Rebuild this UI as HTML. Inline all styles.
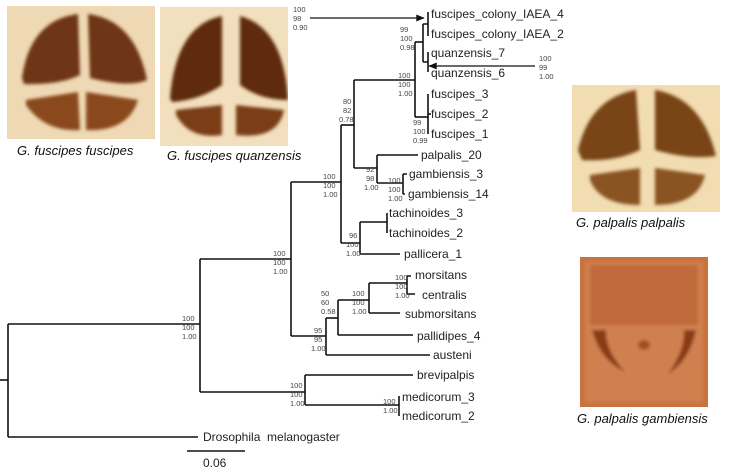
<!DOCTYPE html>
<html><head><meta charset="utf-8"><style>
html,body{margin:0;padding:0;background:#fff;}
body{width:753px;height:472px;overflow:hidden;position:relative;font-family:"Liberation Sans",Arial,sans-serif;}
svg{position:absolute;left:0;top:0;}
</style></head><body>
<svg width="753" height="472" viewBox="0 0 753 472" xmlns="http://www.w3.org/2000/svg">
<defs>
<filter id="bl" x="-20%" y="-20%" width="140%" height="140%"><feGaussianBlur stdDeviation="1.5"/></filter>
<clipPath id="c1"><rect x="7" y="6" width="148" height="133"/></clipPath>
<clipPath id="c2"><rect x="160" y="7" width="128" height="139"/></clipPath>
<clipPath id="c3"><rect x="572" y="85" width="148" height="127"/></clipPath>
<clipPath id="c4"><rect x="580" y="257" width="128" height="150"/></clipPath>
<marker id="ah" viewBox="0 0 12 10" refX="11" refY="5" markerWidth="9" markerHeight="7" orient="auto" markerUnits="userSpaceOnUse"><path d="M0,0 L12,5 L0,10 z" fill="#111"/></marker>
</defs>
<!-- photo 1 -->
<g clip-path="url(#c1)">
<rect x="7" y="6" width="148" height="133" fill="#efd9b4"/>
<g filter="url(#bl)">
<path d="M22,78 Q30,20 78,14 L80,75 Q60,85 24,84 z" fill="#6e3512"/>
<path d="M88,14 Q135,20 147,80 Q130,88 90,78 z" fill="#6e3512"/>
<path d="M26,100 L78,92 L80,130 Q45,132 26,105 z" fill="#8a4a1c"/>
<path d="M86,92 L138,100 Q128,132 86,130 z" fill="#8a4a1c"/>
</g></g>
<!-- photo 2 -->
<g clip-path="url(#c2)">
<rect x="160" y="7" width="128" height="139" fill="#f2dfbd"/>
<g filter="url(#bl)">
<path d="M170,98 Q176,25 222,16 L222,85 Q200,100 172,102 z" fill="#5e2a0c"/>
<path d="M240,16 Q284,28 288,100 Q260,100 240,85 z" fill="#5e2a0c"/>
<path d="M176,110 L222,105 L222,135 Q190,140 176,115 z" fill="#7a3c14"/>
<path d="M236,105 L284,110 Q278,140 236,135 z" fill="#7a3c14"/>
</g></g>
<!-- photo 3 -->
<g clip-path="url(#c3)">
<rect x="572" y="85" width="148" height="127" fill="#f2dcb2"/>
<g filter="url(#bl)">
<path d="M578,150 Q590,98 636,90 L640,150 Q615,162 582,160 z" fill="#7a4418"/>
<path d="M655,90 Q702,98 716,156 Q690,160 655,150 z" fill="#7a4418"/>
<path d="M590,175 L640,168 L640,205 Q600,205 590,180 z" fill="#8a5222"/>
<path d="M655,168 L705,175 Q698,205 655,205 z" fill="#8a5222"/>
</g></g>
<!-- photo 4 -->
<g clip-path="url(#c4)">
<rect x="580" y="257" width="128" height="150" fill="#c8723c"/>
<g filter="url(#bl)">
<rect x="585" y="262" width="118" height="140" fill="#d08050"/>
<rect x="590" y="265" width="108" height="60" fill="#c06a3a"/>
<path d="M592,330 Q600,360 625,372 Q605,350 606,330 z" fill="#8a3a18"/>
<path d="M696,330 Q690,360 668,374 Q685,350 684,330 z" fill="#8a3a18"/>
<ellipse cx="644" cy="345" rx="6" ry="5" fill="#a54e24"/>
</g></g>
<g font-style="italic" font-size="13" fill="#111">
<text x="17" y="155">G. fuscipes fuscipes</text>
<text x="167" y="160">G. fuscipes quanzensis</text>
<text x="576" y="227">G. palpalis palpalis</text>
<text x="577" y="423">G. palpalis gambiensis</text>
</g>
<!-- tree -->
<g stroke="#111" stroke-width="1.6" fill="none">
<path d="M0,380 H8"/>
<path d="M8,324 V437"/>
<path d="M8,324 H200"/>
<path d="M8,437 H198"/>
<path d="M200,259 V392"/>
<path d="M200,259 H291"/>
<path d="M200,392 H305"/>
<path d="M291,182 V336"/>
<path d="M291,182 H341"/>
<path d="M291,336 H326"/>
<path d="M341,125 V243"/>
<path d="M341,125 H354"/>
<path d="M341,243 H360"/>
<path d="M354,80 V168"/>
<path d="M354,80 H415"/>
<path d="M354,168 H377"/>
<path d="M377,155 V183"/>
<path d="M377,155 H418"/>
<path d="M377,183 H403"/>
<path d="M403,174 V194"/>
<path d="M403,174 H407 M403,194 H405"/>
<path d="M415,42 V117"/>
<path d="M415,42 H423"/>
<path d="M415,117 H428"/>
<path d="M423,24 V62"/>
<path d="M423,24 H428 M423,62 H428"/>
<path d="M428,12 V36"/>
<path d="M428,52 V72"/>
<path d="M428,94 V134"/>
<path d="M428,114 H431"/>
<path d="M360,222 V254"/>
<path d="M360,222 H387"/>
<path d="M360,254 H400"/>
<path d="M387,213 V233"/>
<path d="M326,318 V355"/>
<path d="M326,318 H338"/>
<path d="M326,355 H430"/>
<path d="M338,300 V335"/>
<path d="M338,300 H369"/>
<path d="M338,335 H413"/>
<path d="M369,283 V313"/>
<path d="M369,283 H407"/>
<path d="M369,313 H400"/>
<path d="M407,276 V294"/>
<path d="M407,276 H411 M407,294 H415"/>
<path d="M305,375 V405"/>
<path d="M305,375 H413"/>
<path d="M305,405 H399"/>
<path d="M399,396 V416"/>
<path d="M187,451 H245"/>
</g>
<g stroke="#111" stroke-width="1.3">
<line x1="310" y1="18" x2="424" y2="18" marker-end="url(#ah)"/>
<line x1="535" y1="66" x2="429" y2="66" marker-end="url(#ah)"/>
</g>
<g font-size="12" fill="#222">
<text x="431" y="18">fuscipes_colony_IAEA_4</text>
<text x="431" y="38">fuscipes_colony_IAEA_2</text>
<text x="431" y="57">quanzensis_7</text>
<text x="431" y="77">quanzensis_6</text>
<text x="431" y="98">fuscipes_3</text>
<text x="431" y="118">fuscipes_2</text>
<text x="431" y="138">fuscipes_1</text>
<text x="421" y="159">palpalis_20</text>
<text x="409" y="178">gambiensis_3</text>
<text x="408" y="198">gambiensis_14</text>
<text x="389" y="217">tachinoides_3</text>
<text x="389" y="237">tachinoides_2</text>
<text x="404" y="258">pallicera_1</text>
<text x="415" y="279">morsitans</text>
<text x="422" y="299">centralis</text>
<text x="405" y="318">submorsitans</text>
<text x="417" y="340">pallidipes_4</text>
<text x="433" y="359">austeni</text>
<text x="417" y="379">brevipalpis</text>
<text x="402" y="401">medicorum_3</text>
<text x="402" y="420">medicorum_2</text>
<text x="203" y="441">Drosophila&#160;&#160;melanogaster</text>
<text x="203" y="467">0.06</text>
</g>
<g font-size="7.5" fill="#444">
<text x="293" y="12">100</text><text x="293" y="21">98</text><text x="293" y="30">0.90</text>
<text x="400" y="32">99</text><text x="400" y="41">100</text><text x="400" y="50">0.98</text>
<text x="539" y="61">100</text><text x="539" y="70">99</text><text x="539" y="79">1.00</text>
<text x="398" y="78">100</text><text x="398" y="87">100</text><text x="398" y="96">1.00</text>
<text x="413" y="125">99</text><text x="413" y="134">100</text><text x="413" y="143">0.99</text>
<text x="343" y="104">80</text><text x="343" y="113">82</text><text x="339" y="122">0.78</text>
<text x="366" y="172">92</text><text x="366" y="181">98</text><text x="364" y="190">1.00</text>
<text x="388" y="183">100</text><text x="388" y="192">100</text><text x="388" y="201">1.00</text>
<text x="323" y="179">100</text><text x="323" y="188">100</text><text x="323" y="197">1.00</text>
<text x="349" y="238">96</text><text x="346" y="247">100</text><text x="346" y="256">1.00</text>
<text x="273" y="256">100</text><text x="273" y="265">100</text><text x="273" y="274">1.00</text>
<text x="182" y="321">100</text><text x="182" y="330">100</text><text x="182" y="339">1.00</text>
<text x="395" y="280">100</text><text x="395" y="289">100</text><text x="395" y="298">1.00</text>
<text x="352" y="296">100</text><text x="352" y="305">100</text><text x="352" y="314">1.00</text>
<text x="321" y="296">50</text><text x="321" y="305">60</text><text x="321" y="314">0.58</text>
<text x="314" y="333">95</text><text x="314" y="342">95</text><text x="311" y="351">1.00</text>
<text x="290" y="388">100</text><text x="290" y="397">100</text><text x="290" y="406">1.00</text>
<text x="383" y="404">100</text><text x="383" y="413">1.00</text>
</g>
</svg>
</body></html>
